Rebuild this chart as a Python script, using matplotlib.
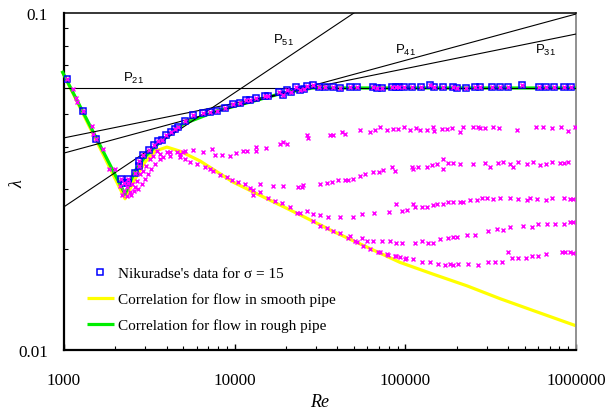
import matplotlib
matplotlib.use("Agg")
import matplotlib.pyplot as plt
from matplotlib.ticker import LogLocator, FixedLocator, FuncFormatter, NullFormatter

plt.rcParams['font.family'] = ['Liberation Serif', 'DejaVu Serif']
plt.rcParams['mathtext.fontset'] = 'custom'
plt.rcParams['mathtext.rm'] = 'Liberation Sans'
plt.rcParams['mathtext.it'] = 'Liberation Sans:italic'

# ---- Nikuradse's data for sigma = 15 (blue squares) ----
sq_re = [1040, 1290, 1540, 2160, 2250, 2370, 2370, 2610, 2750, 2750, 2900, 3150, 3370, 3550, 3750,
         3960, 4240, 4470, 4660, 5120, 5700, 6520, 7170, 7880, 8780, 9780, 10700, 11700, 12300,
         13300, 15100, 15700, 18200, 19200, 20300, 21400, 22900, 24100, 25500, 26600, 28800,
         31200, 33800, 37700, 41400, 47400, 52100, 64700, 68400, 73000, 83500, 88200, 92000,
         98200, 109000, 124000, 140000, 147000, 166000, 190000, 201000, 227000, 256000, 274000,
         322000, 359000, 399000, 483000, 607000, 667000, 743000, 850000, 935000]
sq_lam = [0.0637, 0.0512, 0.0423, 0.0322, 0.0313, 0.0322, 0.0313, 0.0335, 0.0352, 0.0364, 0.0379,
          0.0392, 0.0406, 0.0417, 0.0420, 0.0435, 0.0444, 0.0453, 0.0459, 0.0478, 0.0498, 0.0504,
          0.0508, 0.0512, 0.0523, 0.0537, 0.0541, 0.0552, 0.0552, 0.0559, 0.0567, 0.0567, 0.0583,
          0.0570, 0.0591, 0.0583, 0.0603, 0.0591, 0.0595, 0.0607, 0.0611, 0.0603, 0.0603, 0.0603,
          0.0599, 0.0603, 0.0603, 0.0603, 0.0599, 0.0599, 0.0603, 0.0603, 0.0603, 0.0603, 0.0603,
          0.0603, 0.0611, 0.0603, 0.0603, 0.0603, 0.0599, 0.0599, 0.0603, 0.0603, 0.0603, 0.0603,
          0.0603, 0.0611, 0.0603, 0.0603, 0.0603, 0.0603, 0.0603]

# ---- other Nikuradse series (magenta crosses) ----
# laminar / transition / smooth-branch points shared by several series
com_re = [1130, 1180, 1190, 1460, 1480, 1690, 1840, 1990, 2130, 2190, 2250, 2340, 2340, 2440, 2470,
          2500, 2570, 2610, 2680, 2710, 2790, 2860, 2900, 2980, 3020, 3110, 3190, 3230, 3330, 3410,
          3510, 3650, 3650, 3800, 4010, 4180, 4180, 4600, 4780, 4780, 4980, 5120, 5480, 6020, 6700,
          7170, 7460, 8210, 9020, 9640, 10470, 11500, 12300, 14080, 15700, 17240, 18940, 21100,
          23200, 24150, 28800, 31600, 34700, 37700, 41400, 46100, 52100, 56500, 62100, 71100,
          79000, 88200, 99500]
com_lam = [0.0595, 0.0559, 0.0544, 0.0463, 0.0438, 0.0395, 0.0345, 0.0345, 0.0306, 0.0288, 0.0296,
           0.0304, 0.0286, 0.0294, 0.0288, 0.0311, 0.0296, 0.0304, 0.0318, 0.0300, 0.0333, 0.0311,
           0.0340, 0.0322, 0.0352, 0.0333, 0.0369, 0.0345, 0.0377, 0.0357, 0.0390, 0.0382, 0.0369,
           0.0374, 0.0387, 0.0387, 0.0377, 0.0387, 0.0382, 0.0374, 0.0387, 0.0369, 0.0361, 0.0357,
           0.0349, 0.0345, 0.0340, 0.0330, 0.0325, 0.0320, 0.0316, 0.0311, 0.0302, 0.0294, 0.0282,
           0.0277, 0.0273, 0.0265, 0.0255, 0.0255, 0.0241, 0.0233, 0.0230, 0.0225, 0.0223, 0.0215,
           0.0209, 0.0203, 0.0200, 0.0195, 0.0192, 0.0190, 0.0186]

a_re = [5120, 5700, 6520, 7360, 7670, 8430, 9390, 10190, 11200, 11800, 13300, 13300, 15300, 18400,
        19200, 20300, 26600, 27000, 36200, 37700, 42600, 44300, 54300, 62100, 66400, 71100, 78000,
        85000, 90700, 98200, 106500, 115500, 121900, 134000, 145000, 147000, 164000, 175000,
        187000, 209000, 218000, 249000, 267000, 274000, 293000, 326000, 354000, 451000, 583000,
        641000, 724000, 817000, 897000, 987000]
a_lam = [0.0390, 0.0392, 0.0387, 0.0395, 0.0379, 0.0379, 0.0377, 0.0385, 0.0390, 0.0390, 0.0400,
         0.0390, 0.0397, 0.0409, 0.0414, 0.0409, 0.0435, 0.0426, 0.0435, 0.0435, 0.0444, 0.0438,
         0.0450, 0.0444, 0.0450, 0.0459, 0.0450, 0.0453, 0.0453, 0.0459, 0.0450, 0.0456, 0.0450,
         0.0450, 0.0459, 0.0447, 0.0453, 0.0453, 0.0456, 0.0444, 0.0459, 0.0459, 0.0459, 0.0456,
         0.0456, 0.0459, 0.0456, 0.0450, 0.0459, 0.0459, 0.0456, 0.0459, 0.0447, 0.0459]

b_re = [12800, 12800, 14100, 16800, 19200, 23500, 24800, 25100, 31600, 34700, 37200, 40300, 44300,
        46100, 49400, 54300, 58100, 64700, 70000, 74000, 83500, 87000, 109000, 111000, 118000,
        134000, 144000, 154000, 166000, 166000, 177000, 190000, 209000, 249000, 293000, 313000,
        349000, 373000, 410000, 427000, 457000, 516000, 560000, 615000, 667000, 724000, 806000,
        850000, 897000]
b_lam = [0.0298, 0.0288, 0.0311, 0.0306, 0.0306, 0.0304, 0.0304, 0.0308, 0.0311, 0.0313, 0.0316,
         0.0320, 0.0320, 0.0320, 0.0322, 0.0328, 0.0333, 0.0337, 0.0337, 0.0342, 0.0349, 0.0340,
         0.0349, 0.0345, 0.0349, 0.0349, 0.0354, 0.0357, 0.0369, 0.0345, 0.0359, 0.0359, 0.0357,
         0.0357, 0.0359, 0.0349, 0.0359, 0.0361, 0.0357, 0.0349, 0.0361, 0.0357, 0.0361, 0.0354,
         0.0357, 0.0361, 0.0359, 0.0359, 0.0361]

c_re = [26600, 28800, 31600, 35200, 41400, 49400, 55700, 65500, 80200, 88200, 95000, 102000,
        111000, 114000, 125000, 134000, 145000, 154000, 166000, 177000, 190000, 209000, 218000,
        239000, 262000, 281000, 301000, 326000, 359000, 410000, 457000, 516000, 538000, 591000,
        667000, 723000, 850000, 922000, 955000]
c_lam = [0.0259, 0.0253, 0.0252, 0.0248, 0.0248, 0.0248, 0.0253, 0.0255, 0.0257, 0.0271, 0.0259,
         0.0261, 0.0271, 0.0266, 0.0266, 0.0266, 0.0269, 0.0271, 0.0271, 0.0275, 0.0275, 0.0275,
         0.0275, 0.0279, 0.0279, 0.0282, 0.0282, 0.0281, 0.0282, 0.0282, 0.0281, 0.0279, 0.0282,
         0.0281, 0.0279, 0.0282, 0.0282, 0.0281, 0.0281]

d_re = [47400, 50700, 55700, 59700, 64700, 73000, 81300, 88200, 95000, 114000, 125000, 136000,
        145000, 160000, 177000, 190000, 201000, 230000, 256000, 305000, 345000, 373000, 410000,
        489000, 553000, 598000, 676000, 753000, 850000, 922000, 955000]
d_lam = [0.0218, 0.0210, 0.0215, 0.0210, 0.0211, 0.0210, 0.0210, 0.0208, 0.0208, 0.0208, 0.0210,
         0.0208, 0.0208, 0.0213, 0.0215, 0.0216, 0.0216, 0.0220, 0.0220, 0.0225, 0.0229, 0.0227,
         0.0232, 0.0234, 0.0232, 0.0236, 0.0236, 0.0236, 0.0237, 0.0239, 0.0239]

e_re = [69100, 78000, 87000, 93100, 101000, 111000, 125000, 140000, 155000, 171000, 183000, 190000,
        204000, 233000, 267000, 305000, 335000, 368000, 399000, 421000, 457000, 510000, 553000,
        598000, 667000, 828000, 862000, 922000, 955000]
e_lam = [0.0195, 0.0193, 0.0190, 0.0189, 0.0187, 0.0186, 0.0182, 0.0182, 0.0180, 0.0179, 0.0180,
         0.0179, 0.0180, 0.0180, 0.0179, 0.0182, 0.0182, 0.0182, 0.0195, 0.0187, 0.0187, 0.0187,
         0.0190, 0.0190, 0.0193, 0.0195, 0.0195, 0.0195, 0.0194]

# ---- correlations ----
rough_re = [973, 2280, 2610, 2980, 3650, 4980, 7880, 12300, 19200, 28800, 1000000]
rough_lam = [0.0673, 0.0290, 0.0340, 0.0374, 0.0414, 0.0468, 0.0512, 0.0544, 0.0579, 0.0599, 0.0599]
smooth_re = [973, 2280, 2610, 2980, 3410, 4010, 4780, 6260, 9780, 15500, 24100, 37700, 59600, 93000,
             145000, 230000, 359000, 560000, 1000000]
smooth_lam = [0.0673, 0.0281, 0.0322, 0.0361, 0.0389, 0.0400, 0.0389, 0.0364, 0.0315, 0.0281, 0.0252,
              0.0225, 0.0202, 0.0182, 0.0168, 0.0155, 0.0142, 0.0131, 0.0118]

# ---- power-law lines P21, P31, P41, P51 ----
p21_re = [1000, 1000000]
p21_lam = [0.0597, 0.0597]
p31_re = [1000, 1000000]
p31_lam = [0.0426, 0.0866]
p41_re = [1000, 1000000]
p41_lam = [0.0384, 0.0993]
p51_re = [1000, 50000]
p51_lam = [0.0266, 0.1000]

legend_labels = ["Nikuradse's data for \u03c3 = 15",
                 "Correlation for flow in smooth pipe",
                 "Correlation for flow in rough pipe"]

fig = plt.figure(figsize=(6.07, 4.10), dpi=100)
ax = fig.add_axes([0.1054, 0.1439, 0.8435, 0.8220])
ax.set_xscale('log')
ax.set_yscale('log')
ax.set_xlim(1000, 1000000)
ax.set_ylim(0.01, 0.1)

ys, = ax.plot(smooth_re, smooth_lam, color='#ffff00', lw=2.3, zorder=2, clip_on=False,
              solid_capstyle='butt')
gr, = ax.plot(rough_re, rough_lam, color='#00ee00', lw=2.3, zorder=3, clip_on=False,
              solid_capstyle='butt')
for r, l in [(p21_re, p21_lam), (p31_re, p31_lam), (p41_re, p41_lam), (p51_re, p51_lam)]:
    ax.plot(r, l, color='black', lw=0.8, zorder=4)

xk = dict(marker='x', ls='none', color='#ff00ff', ms=3.3, mew=1.05, zorder=6)
for r, l in [(com_re, com_lam), (a_re, a_lam), (b_re, b_lam), (c_re, c_lam),
             (d_re, d_lam), (e_re, e_lam), (sq_re, sq_lam)]:
    ax.plot(r, l, **xk)
sqh, = ax.plot(sq_re, sq_lam, marker='s', ls='none', mfc='none', mec='#0000ff', ms=4.5,
               mew=1.1, zorder=5)

# line labels
lab_kw = dict(transform=ax.transAxes, fontsize=9.5, ha='left', va='baseline', zorder=7)
ax.text(0.115, 0.798, r'$\mathrm{P}_{\mathrm{21}}$', **lab_kw)
ax.text(0.408, 0.910, r'$\mathrm{P}_{\mathrm{51}}$', **lab_kw)
ax.text(0.646, 0.881, r'$\mathrm{P}_{\mathrm{41}}$', **lab_kw)
ax.text(0.919, 0.881, r'$\mathrm{P}_{\mathrm{31}}$', **lab_kw)

# axes styling
for s in ['left', 'bottom']:
    ax.spines[s].set_linewidth(1.6)
ax.spines['top'].set_linewidth(1.1)
ax.spines['right'].set_linewidth(1.3)
ax.spines['right'].set_color('#888888')

ax.xaxis.set_major_locator(FixedLocator([1000, 10000, 100000, 1000000]))
ax.xaxis.set_minor_locator(LogLocator(base=10, subs=range(2, 10)))
ax.xaxis.set_major_formatter(FuncFormatter(lambda v, p: '%d' % round(v)))
ax.xaxis.set_minor_formatter(NullFormatter())
ax.yaxis.set_major_locator(FixedLocator([0.01, 0.1]))
ax.yaxis.set_minor_locator(LogLocator(base=10, subs=range(2, 10)))
ax.yaxis.set_major_formatter(FuncFormatter(lambda v, p: '%g' % v))
ax.yaxis.set_minor_formatter(NullFormatter())
ax.tick_params(axis='x', which='major', direction='in', length=4.5, width=1.0, pad=15.5,
               labelsize=12.3, top=False)
ax.tick_params(axis='x', which='minor', direction='in', length=3, width=0.8, top=False)
ax.tick_params(axis='y', which='major', direction='in', length=0, pad=11.5, labelsize=12.3,
               right=False)
ax.tick_params(axis='y', which='minor', direction='in', length=3, width=0.8, right=False)

ax.set_xlabel('Re', fontstyle='italic', fontsize=13, labelpad=4)
ax.set_ylabel('\u03bb', fontstyle='italic', fontsize=13)
ax.yaxis.label.set_va('center')
ax.yaxis.set_label_coords(-0.09, 0.4955)

leg = ax.legend([sqh, ys, gr], legend_labels, loc='center left', bbox_to_anchor=(0.0449, 0.150),
                frameon=False, fontsize=11, borderpad=0, borderaxespad=0, handlelength=1.76,
                handletextpad=0.26, labelspacing=0.8)

fig.savefig('out.png', dpi=100)
